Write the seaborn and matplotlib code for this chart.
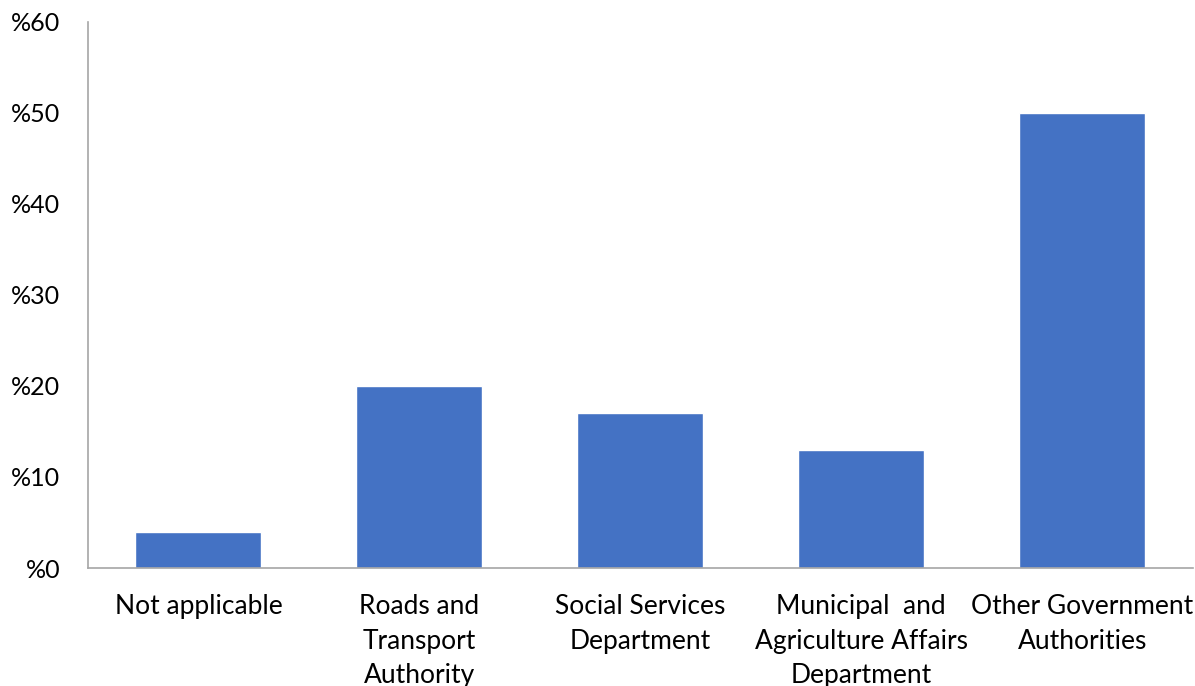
import matplotlib
matplotlib.use("Agg")
import matplotlib.pyplot as plt
import seaborn as sns
import pandas as pd

categories = [
    "Not applicable",
    "Roads and\nTransport\nAuthority",
    "Social Services\nDepartment",
    "Municipal  and\nAgriculture Affairs\nDepartment",
    "Other Government\nAuthorities",
]
shares = [4, 20, 17, 13, 50]
y_ticks = [0, 10, 20, 30, 40, 50, 60]
y_tick_labels = ["%0", "%10", "%20", "%30", "%40", "%50", "%60"]

sns.set_theme(style="white")
plt.rcParams["font.family"] = ["Lato", "DejaVu Sans"]

df = pd.DataFrame({"category": categories, "share": shares})

fig = plt.figure(figsize=(11.95, 6.86), dpi=100)
ax = fig.add_axes([0.0736, 0.172, 0.9244, 0.796])

sns.barplot(data=df, x="category", y="share", color="#4472C4",
            saturation=1, width=0.57, ax=ax)

ax.set_ylim(0, 60)
ax.set_yticks(y_ticks)
ax.set_yticklabels(y_tick_labels)
ax.set_xlabel("")
ax.set_ylabel("")
ax.tick_params(axis="both", length=0, colors="black")
ax.tick_params(axis="y", pad=20, labelsize=18)
ax.tick_params(axis="x", pad=19, labelsize=19)
for lbl in ax.get_xticklabels():
    lbl.set_linespacing(1.47)

for side in ["top", "right"]:
    ax.spines[side].set_visible(False)
for side in ["left", "bottom"]:
    ax.spines[side].set_color("#A6A6A6")
    ax.spines[side].set_linewidth(1.2)

fig.savefig("out.png", dpi=100, facecolor="white")
